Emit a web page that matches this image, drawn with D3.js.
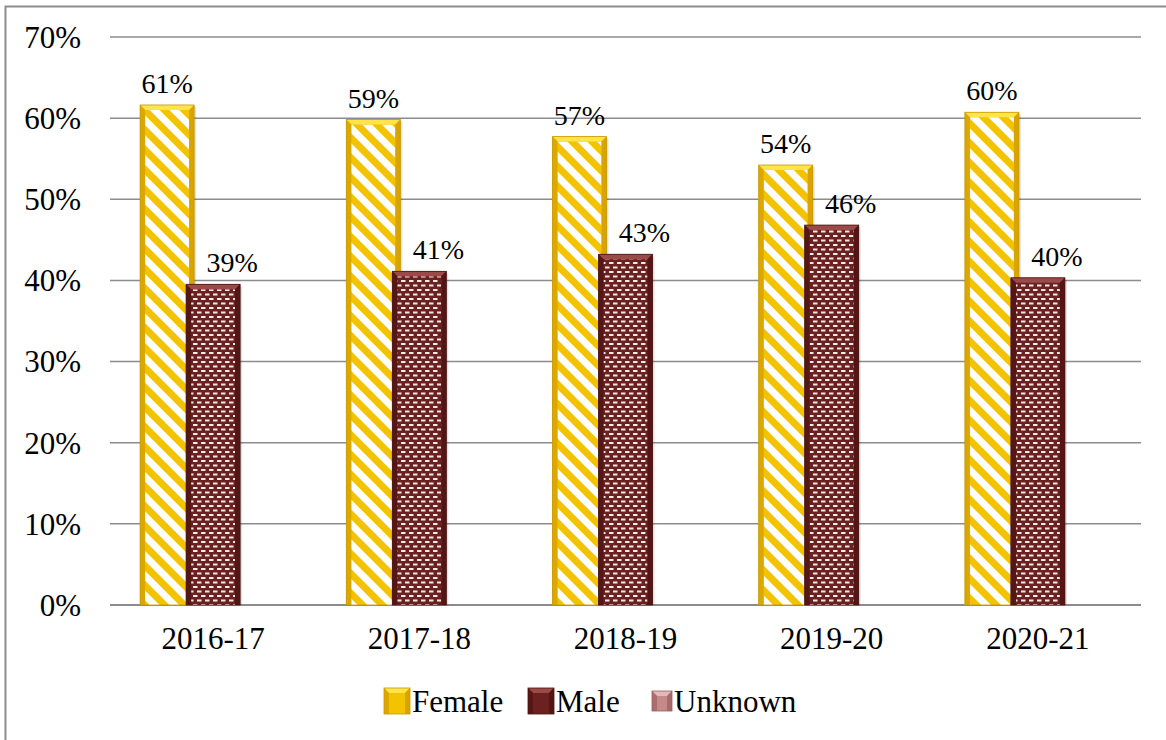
<!DOCTYPE html>
<html>
<head>
<meta charset="utf-8">
<script src="https://cdn.jsdelivr.net/npm/d3@7"></script>
<style>
  html, body { margin: 0; padding: 0; background: #fff; }
</style>
</head>
<body>
<div id="chart"></div>
<script>
const categories = ['2016-17', '2017-18', '2018-19', '2019-20', '2020-21'];
const seriesNames = ['Female', 'Male', 'Unknown'];
const female = [61.5, 59.7, 57.6, 54.1, 60.6];
const male = [39.4, 41.0, 43.1, 46.7, 40.2];
const unknown = [0, 0, 0, 0, 0];
const femaleLabels = ['61%', '59%', '57%', '54%', '60%'];
const maleLabels = ['39%', '41%', '43%', '46%', '40%'];
const yTicks = [0, 10, 20, 30, 40, 50, 60, 70];

const width = 1166;
const height = 740;
const plot = { left: 110, right: 1141, top: 37, bottom: 605 };
const serif = '"Liberation Serif"';

const svg = d3.select('#chart')
  .append('svg')
  .attr('width', width)
  .attr('height', height);

const defs = svg.append('defs');

// diagonal white stripes on gold
const stripes = defs.append('pattern')
  .attr('id', 'femaleFill')
  .attr('patternUnits', 'userSpaceOnUse')
  .attr('width', 14)
  .attr('height', 14)
  .attr('patternTransform', 'rotate(-45)');
stripes.append('rect').attr('width', 14).attr('height', 14).attr('fill', '#f3c300');
stripes.append('rect').attr('x', 0).attr('width', 7).attr('height', 14).attr('fill', '#ffffff');

// white dashes in brick rows on dark brown
const dashes = defs.append('pattern')
  .attr('id', 'maleFill')
  .attr('patternUnits', 'userSpaceOnUse')
  .attr('width', 8)
  .attr('height', 9);
dashes.append('rect').attr('width', 8).attr('height', 9).attr('fill', '#6a2120');
dashes.append('rect').attr('x', 1).attr('y', 1).attr('width', 4.5).attr('height', 2).attr('fill', '#f4eaea');
dashes.append('rect').attr('x', 5).attr('y', 5.5).attr('width', 4.5).attr('height', 2).attr('fill', '#f4eaea');
dashes.append('rect').attr('x', -3).attr('y', 5.5).attr('width', 4.5).attr('height', 2).attr('fill', '#f4eaea');

const styles = {
  Female: { fill: 'url(#femaleFill)', base: '#f3c300', top: '#ffe44a', side: '#d9a400', edge: '#c79600', dx: 0 },
  Male: { fill: 'url(#maleFill)', base: '#6a2120', top: '#9a4a48', side: '#531615', edge: '#4a1211', dx: 19 },
  Unknown: { fill: '#c48a8a', base: '#c48a8a', top: '#e2b8b8', side: '#a86a6a', edge: '#9a5e5e', dx: 0 }
};

// chart frame
svg.append('rect')
  .attr('x', 5.5)
  .attr('y', 6.5)
  .attr('width', 1300)
  .attr('height', 900)
  .attr('fill', 'none')
  .attr('stroke', '#8c8c8c')
  .attr('stroke-width', 2);

const y = d3.scaleLinear().domain([0, 70]).range([plot.bottom, plot.top]);
const x0 = d3.scaleBand().domain(categories).range([plot.left, plot.right]);
const barW = 54;
const step = 46;
const x1 = d3.scalePoint().domain(seriesNames).range([-step, step]);

// gridlines
svg.append('g')
  .selectAll('line')
  .data(yTicks)
  .join('line')
  .attr('x1', plot.left)
  .attr('x2', plot.right)
  .attr('y1', (d) => y(d))
  .attr('y2', (d) => y(d))
  .attr('stroke', '#8c8c8c')
  .attr('stroke-width', (d) => (d === 0 ? 2 : 1.5));

// y tick labels
svg.append('g')
  .selectAll('text')
  .data(yTicks)
  .join('text')
  .attr('x', 81)
  .attr('y', (d) => y(d))
  .attr('dy', '0.35em')
  .attr('text-anchor', 'end')
  .style('font-family', serif)
  .attr('font-size', 31)
  .attr('fill', '#000')
  .text((d) => `${d}%`);

// category labels
svg.append('g')
  .selectAll('text')
  .data(categories)
  .join('text')
  .attr('x', (d) => x0(d) + x0.bandwidth() / 2)
  .attr('y', 649)
  .attr('text-anchor', 'middle')
  .style('font-family', serif)
  .attr('font-size', 31)
  .attr('fill', '#000')
  .text((d) => d);

function bevelBar(g, x, yTop, w, h, st) {
  const b = Math.min(5, h / 2, w / 2);
  g.append('rect')
    .attr('x', x).attr('y', yTop).attr('width', w).attr('height', h)
    .attr('fill', st.base);
  g.append('rect')
    .attr('x', x + b).attr('y', yTop + b).attr('width', w - 2 * b).attr('height', h - b)
    .attr('fill', st.fill);
  // top bevel
  g.append('polygon')
    .attr('points', [[x, yTop], [x + w, yTop], [x + w - b, yTop + b], [x + b, yTop + b]].join(' '))
    .attr('fill', st.top);
  // left bevel
  g.append('polygon')
    .attr('points', [[x, yTop], [x + b, yTop + b], [x + b, yTop + h], [x, yTop + h]].join(' '))
    .attr('fill', st.side).attr('opacity', 0.9);
  // right bevel
  g.append('polygon')
    .attr('points', [[x + w, yTop], [x + w - b, yTop + b], [x + w - b, yTop + h], [x + w, yTop + h]].join(' '))
    .attr('fill', st.side);
  g.append('rect')
    .attr('x', x).attr('y', yTop).attr('width', w).attr('height', h)
    .attr('fill', 'none').attr('stroke', st.edge).attr('stroke-width', 0.8);
}

const bars = svg.append('g');
const seriesData = [
  { name: 'Female', values: female, labels: femaleLabels },
  { name: 'Male', values: male, labels: maleLabels },
  { name: 'Unknown', values: unknown, labels: null }
];

seriesData.forEach((s) => {
  s.values.forEach((v, i) => {
    if (v <= 0) return;
    const cx = x0(categories[i]) + x0.bandwidth() / 2 + x1(s.name);
    const top = y(v) - 1;
    const g = bars.append('g');
    // soft shadow
    g.append('rect')
      .attr('x', cx - barW / 2 + 2).attr('y', top + 2)
      .attr('width', barW).attr('height', plot.bottom - top - 2)
      .attr('fill', '#000').attr('opacity', 0.12);
    bevelBar(g, cx - barW / 2, top, barW, plot.bottom - top, styles[s.name]);
    if (s.labels) {
      bars.append('text')
        .attr('x', cx + styles[s.name].dx)
        .attr('y', top - 12)
        .attr('text-anchor', 'middle')
        .style('font-family', serif)
        .attr('font-size', 28)
        .attr('fill', '#000')
        .text(s.labels[i]);
    }
  });
});

// legend
const legendItems = [
  { name: 'Female', x: 384, size: 26 },
  { name: 'Male', x: 528, size: 26 },
  { name: 'Unknown', x: 649, size: 20 }
];
const legend = svg.append('g');
legendItems.forEach((item) => {
  const st = styles[item.name];
  const cy = 701;
  const g = legend.append('g');
  const sx = item.x + (26 - item.size) / 2;
  bevelBar(g, sx, cy - item.size / 2, item.size, item.size,
    { ...st, fill: st.base });
  legend.append('text')
    .attr('x', item.name === 'Unknown' ? item.x + 25 : item.x + 28)
    .attr('y', cy)
    .attr('dy', '0.35em')
    .style('font-family', serif)
    .attr('font-size', 31)
    .attr('fill', '#000')
    .text(item.name);
});
</script>
</body>
</html>
